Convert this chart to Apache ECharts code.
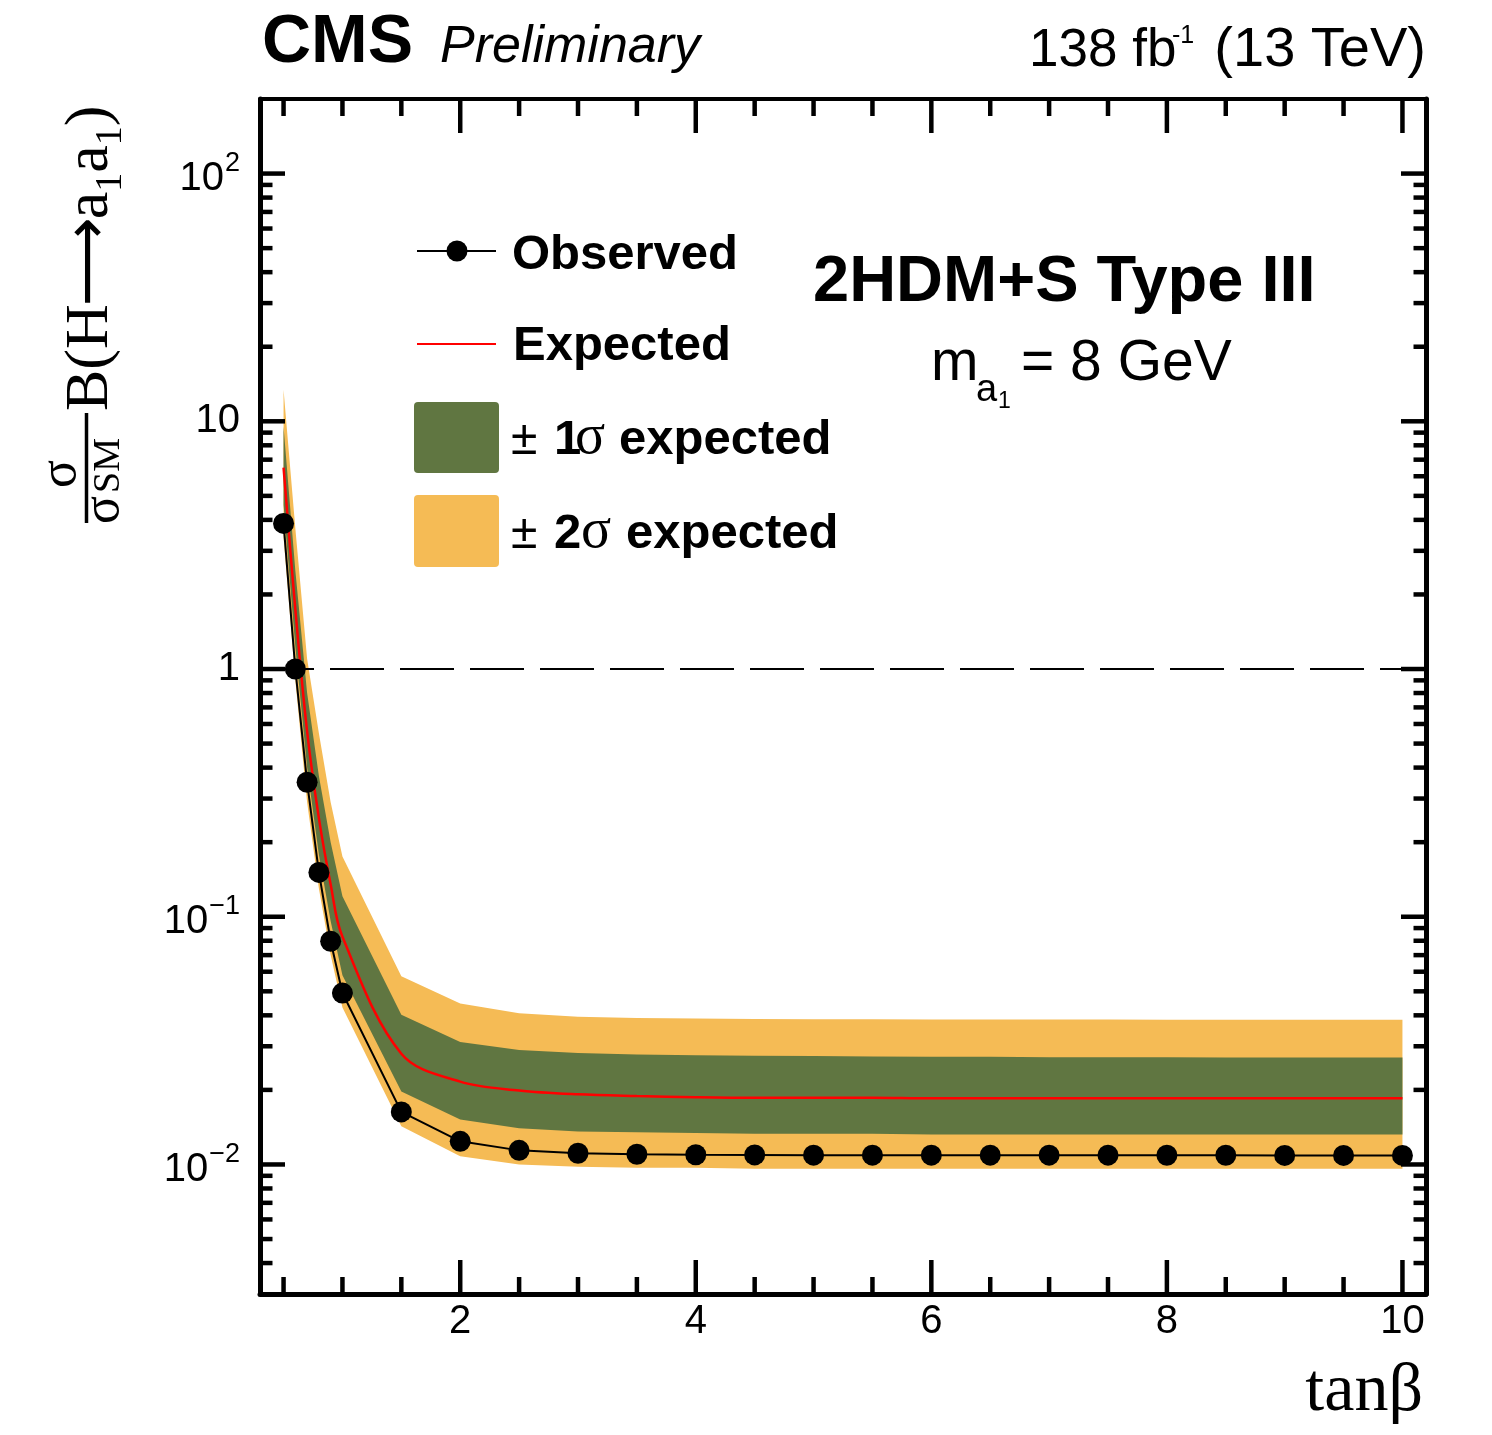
<!DOCTYPE html>
<html><head><meta charset="utf-8">
<script src="https://cdn.jsdelivr.net/npm/echarts@6/dist/echarts.min.js"></script>
<style>html,body{margin:0;padding:0;background:#fff}#c{width:1492px;height:1435px}</style>
</head><body><div id="c"></div><script>
// ---------------- data ----------------
const tanb      = [0.5, 0.6, 0.7, 0.8, 0.9, 1.0, 1.5, 2, 2.5, 3, 3.5, 4, 4.5, 5, 5.5, 6, 6.5, 7, 7.5, 8, 8.5, 9, 9.5, 10];
const observed  = [3.87, 1.0, 0.349, 0.151, 0.0796, 0.0492, 0.0163, 0.0124, 0.0114, 0.0111, 0.0110, 0.01095, 0.01093, 0.0109, 0.0109, 0.0109, 0.0109, 0.0109, 0.0109, 0.01089, 0.01089, 0.01088, 0.01088, 0.01088];
const expected  = [6.5, 1.74, 0.56, 0.25, 0.135, 0.083, 0.028, 0.0216, 0.0199, 0.0192, 0.0189, 0.0187, 0.0186, 0.0186, 0.0186, 0.0185, 0.0185, 0.0185, 0.0185, 0.0185, 0.0185, 0.0185, 0.0185, 0.0185];
const up1sigma  = [9.5, 2.5, 0.8, 0.37, 0.2, 0.121, 0.0402, 0.0312, 0.0290, 0.0282, 0.0278, 0.0276, 0.0275, 0.0274, 0.0273, 0.0272, 0.0272, 0.0271, 0.0271, 0.0271, 0.0270, 0.0270, 0.0270, 0.0270];
const lo1sigma  = [4.6, 1.23, 0.40, 0.178, 0.096, 0.058, 0.0197, 0.0152, 0.0140, 0.0136, 0.0135, 0.0134, 0.0133, 0.0133, 0.0133, 0.0132, 0.0132, 0.0132, 0.0132, 0.0132, 0.0132, 0.0132, 0.0132, 0.0132];
const up2sigma  = [13.4, 3.7, 1.1, 0.55, 0.29, 0.175, 0.0575, 0.0446, 0.0408, 0.0395, 0.0390, 0.0388, 0.0387, 0.0386, 0.0386, 0.0385, 0.0385, 0.0385, 0.0385, 0.0384, 0.0384, 0.0384, 0.0384, 0.0384];
const lo2sigma  = [3.4, 0.9, 0.29, 0.13, 0.07, 0.043, 0.01425, 0.0108, 0.0100, 0.0098, 0.0097, 0.0097, 0.0096, 0.0096, 0.0096, 0.0096, 0.0096, 0.0096, 0.0096, 0.0096, 0.0096, 0.0096, 0.0096, 0.0096];

const xRange = [0.3, 10.2];
const yRange = [0.003, 200];
const refLine = 1;
const xMajorTicks = [2, 4, 6, 8, 10];
const xTickLabels = ['2', '4', '6', '8', '10'];
const xMinorTicks = [0.5, 1, 1.5, 2.5, 3, 3.5, 4.5, 5, 5.5, 6.5, 7, 7.5, 8.5, 9, 9.5];
const yMajorTicks = [0.01, 0.1, 1, 10, 100];
const yTickBase   = ['10', '10', '1', '10', '10'];
const yTickExp    = ['\u22122', '\u22121', '', '', '2'];
const yMinorTicks = [0.004, 0.005, 0.006, 0.007, 0.008, 0.009,
                     0.02, 0.03, 0.04, 0.05, 0.06, 0.07, 0.08, 0.09,
                     0.2, 0.3, 0.4, 0.5, 0.6, 0.7, 0.8, 0.9,
                     2, 3, 4, 5, 6, 7, 8, 9,
                     20, 30, 40, 50, 60, 70, 80, 90];

// ---------------- styles ----------------
const C_ORANGE = '#F5BB55';
const C_GREEN = '#607641';
const SANS = '"Liberation Sans", Arial, Helvetica, sans-serif';
const SERIF = '"Liberation Serif", "Times New Roman", "DejaVu Serif", serif';

const mctx = document.createElement('canvas').getContext('2d');
function meas(font, t) {
  mctx.font = font;
  const m = mctx.measureText(t);
  let mid = (m.fontBoundingBoxAscent !== undefined) ? (m.fontBoundingBoxAscent - m.fontBoundingBoxDescent) / 2 : parseFloat(font.match(/(\d+(\.\d+)?)px/)[1]) * 0.345;
  return { w: m.width, mid };
}
// text placed by alphabetic baseline
function txt(t, x, base, font, align, fill) {
  const m = meas(font, t);
  return { type: 'text', silent: true, style: { text: t, x: x, y: base - m.mid, font: font, fill: fill || '#000', align: align || 'left', verticalAlign: 'middle' } };
}
// a run of pieces [{t,font,base,dx}] starting at x (or ending at x if align right)
function run(pieces, x, align) {
  let total = 0;
  pieces.forEach(p => { total += (p.dx || 0) + meas(p.font, p.t).w; });
  let cx = align === 'right' ? x - total : x;
  const out = [];
  pieces.forEach(p => {
    cx += (p.dx || 0);
    out.push(txt(p.t, cx, p.base, p.font, 'left'));
    cx += meas(p.font, p.t).w;
  });
  return out;
}

const chart = echarts.init(document.getElementById('c'), null, { renderer: 'canvas' });

const GRID = { left: 260, top: 99, width: 1166, height: 1195 };

function bandSeries(name, lo, hi, color, z) {
  return {
    type: 'custom', name: name, z: z, silent: true, clip: true,
    data: [[tanb[0], hi[0]]],
    renderItem: function (params, api) {
      const pts = [];
      for (let i = 0; i < tanb.length; i++) pts.push(api.coord([tanb[i], hi[i]]));
      for (let i = tanb.length - 1; i >= 0; i--) pts.push(api.coord([tanb[i], lo[i]]));
      return { type: 'polygon', shape: { points: pts }, style: { fill: color } };
    }
  };
}

const axisDecor = {
  type: 'custom', name: 'axes', z: 20, silent: true, clip: false,
  data: [[xRange[0], yRange[0]]],
  renderItem: function (params, api) {
    const ch = [];
    const L = api.coord([xRange[0], 1])[0], R = api.coord([xRange[1], 1])[0];
    const B = api.coord([1, yRange[0]])[1], T = api.coord([1, yRange[1]])[1];
    const tk = (x1, y1, x2, y2) => ch.push({ type: 'line', shape: { x1, y1, x2, y2 }, style: { stroke: '#000', lineWidth: 4.5, lineCap: 'butt' } });
    xMajorTicks.forEach((v, i) => {
      const x = api.coord([v, 1])[0];
      tk(x, B, x, B - 34); tk(x, T, x, T + 34);
      ch.push(txt(xTickLabels[i], x, 1336, '40px ' + SANS, 'center'));
    });
    xMinorTicks.forEach(v => {
      const x = api.coord([v, 1])[0];
      tk(x, B, x, B - 17); tk(x, T, x, T + 17);
    });
    yMajorTicks.forEach((v, i) => {
      const y = api.coord([1, v])[1];
      tk(L, y, L + 25, y); tk(R, y, R - 25, y);
      if (yTickExp[i]) {
        run([{ t: yTickBase[i], font: '40px ' + SANS, base: y + 19.5 },
             { t: yTickExp[i], font: '27px ' + SANS, base: y - 1, dx: 1 }], 240, 'right').forEach(e => ch.push(e));
      } else {
        ch.push(txt(yTickBase[i], 240, y + 14, '40px ' + SANS, 'right'));
      }
    });
    yMinorTicks.forEach(v => {
      const y = api.coord([1, v])[1];
      tk(L, y, L + 12.5, y); tk(R, y, R - 12.5, y);
    });
    return { type: 'group', children: ch };
  }
};

const axisCommon = {
  axisTick: { show: false }, axisLabel: { show: false }, splitLine: { show: false },
};

// y-axis title (rotated group, local x = upward along the axis, local y = rightward)
const yTitleChildren = [
  txt('\u03c3', 49, -33, '52px ' + SERIF, 'center'),
  { type: 'line', silent: true, shape: { x1: 0, y1: -25.5, x2: 110, y2: -25.5 }, style: { stroke: '#000', lineWidth: 3.5 } },
  txt('\u03c3', -1, 10, '52px ' + SERIF, 'left'),
  txt('SM', 30, 10, '38px ' + SERIF, 'left'),
].concat(run([
  { t: 'B(H', font: '62px ' + SERIF, base: 0 },
  { t: '\u27f6', font: '62px "DejaVu Sans", ' + SERIF, base: 0, dx: -2 },
  { t: 'a', font: '62px ' + SERIF, base: 0, dx: -2 },
  { t: '1', font: '38px ' + SERIF, base: 12 },
  { t: 'a', font: '62px ' + SERIF, base: 0 },
  { t: '1', font: '38px ' + SERIF, base: 12 },
  { t: ')', font: '62px ' + SERIF, base: 0 }
], 112, 'left'));

const graphics = [
  // header
  txt('CMS', 262, 67, 'bold 68px ' + SANS),
  txt('Preliminary', 440, 66, 'italic 52px ' + SANS),
  txt('138 fb', 1029, 70, '53px ' + SANS),
  txt('-1', 1172, 45, '25px ' + SANS),
  txt('(13 TeV)', 1426, 70, '56px ' + SANS, 'right'),
  // labels in frame
  txt('2HDM+S Type III', 813, 306, 'bold 65px ' + SANS),
  txt('m', 931, 384, '57px ' + SANS),
  txt('a', 976, 404, '38px ' + SANS),
  txt('1', 998, 410, '23px ' + SANS),
  txt('= 8 GeV', 1021, 384, '57px ' + SANS),
  // legend
  { type: 'line', silent: true, shape: { x1: 417, y1: 251, x2: 496, y2: 251 }, style: { stroke: '#000', lineWidth: 2 } },
  { type: 'circle', silent: true, shape: { cx: 457, cy: 251, r: 10.5 }, style: { fill: '#000' } },
  txt('Observed', 512, 272, 'bold 49px ' + SANS),
  { type: 'line', silent: true, shape: { x1: 417, y1: 344, x2: 496, y2: 344 }, style: { stroke: '#FF0000', lineWidth: 2 } },
  txt('Expected', 513, 363, 'bold 49px ' + SANS),
  { type: 'rect', silent: true, shape: { x: 414, y: 402, width: 85, height: 71, r: 4 }, style: { fill: C_GREEN } },
  txt('\u00b1', 511, 457, '48px ' + SANS),
  txt('1', 554, 457, 'bold 49px ' + SANS),
  txt('\u03c3', 575, 457, '56px ' + SERIF),
  txt('expected', 619, 457, 'bold 49px ' + SANS),
  { type: 'rect', silent: true, shape: { x: 414, y: 495, width: 85, height: 72, r: 4 }, style: { fill: C_ORANGE } },
  txt('\u00b1', 511, 551, '48px ' + SANS),
  txt('2', 554, 551, 'bold 49px ' + SANS),
  txt('\u03c3', 581, 551, '56px ' + SERIF),
  txt('expected', 626, 551, 'bold 49px ' + SANS),
  // x title
  txt('tan\u03b2', 1423, 1415, '68px ' + SERIF, 'right'),
  // y title
  { type: 'group', x: 112, y: 523, rotation: Math.PI / 2, children: yTitleChildren }
];

const option = {
  animation: false,
  backgroundColor: '#fff',
  grid: GRID,
  xAxis: [
    Object.assign({ type: 'value', min: xRange[0], max: xRange[1], position: 'bottom', axisLine: { lineStyle: { color: '#000', width: 5 } } }, axisCommon),
    Object.assign({ type: 'value', min: xRange[0], max: xRange[1], position: 'top', axisLine: { lineStyle: { color: '#000', width: 4 } } }, axisCommon)
  ],
  yAxis: [
    Object.assign({ type: 'log', logBase: 10, min: yRange[0], max: yRange[1], position: 'left', axisLine: { lineStyle: { color: '#000', width: 5 } } }, axisCommon),
    Object.assign({ type: 'log', logBase: 10, min: yRange[0], max: yRange[1], position: 'right', axisLine: { lineStyle: { color: '#000', width: 5 } } }, axisCommon)
  ],
  series: [
    bandSeries('\u00b1 2\u03c3 expected', lo2sigma, up2sigma, C_ORANGE, 1),
    bandSeries('\u00b1 1\u03c3 expected', lo1sigma, up1sigma, C_GREEN, 2),
    {
      type: 'line', name: 'Expected', z: 3, silent: true, symbol: 'none', smooth: 0.35,
      data: tanb.map((x, i) => [x, expected[i]]),
      lineStyle: { color: '#FF0000', width: 2.5 }
    },
    {
      type: 'line', name: 'ref', z: 4, silent: true, symbol: 'none',
      data: [[xRange[0], refLine], [xRange[1], refLine]],
      lineStyle: { color: '#000', width: 2, type: [54, 16] }
    },
    {
      type: 'line', name: 'Observed', z: 5, silent: true, symbol: 'circle', symbolSize: 21,
      data: tanb.map((x, i) => [x, observed[i]]),
      itemStyle: { color: '#000' },
      lineStyle: { color: '#000', width: 2 }
    },
    axisDecor
  ],
  graphic: graphics
};
chart.setOption(option);
</script></body></html>
